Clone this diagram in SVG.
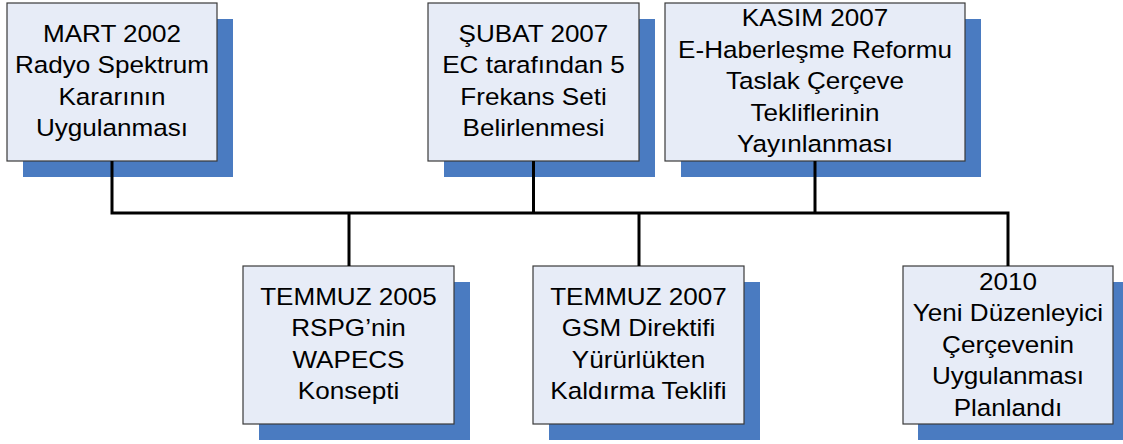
<svg xmlns="http://www.w3.org/2000/svg" width="1123" height="444" viewBox="0 0 1123 444">
<style>
.bg{fill:#ffffff}
.sh{fill:#4A7BC1}
.box{fill:#E7ECF7;stroke:#3a3a3a;stroke-width:1.2}
.t{font-family:"Liberation Sans",Arial,sans-serif;font-size:23.5px;text-anchor:middle;fill:#000}
.c{fill:none;stroke:#000;stroke-width:3;stroke-linejoin:miter;stroke-linecap:butt}
</style>
<rect class="bg" x="0" y="0" width="1123" height="444"/>
<g id="node-mart2002">
<rect class="sh" x="23" y="19" width="210" height="158"/>
<rect class="box" x="7" y="3" width="210" height="158"/>
<g transform="translate(112 0) scale(1.11 1)" class="t">
<text x="0" y="42">MART 2002</text>
<text x="0" y="73.5">Radyo Spektrum</text>
<text x="0" y="105">Kararının</text>
<text x="0" y="136.5">Uygulanması</text>
</g>
</g>
<g id="node-subat2007">
<rect class="sh" x="444" y="19" width="211" height="158"/>
<rect class="box" x="428" y="3" width="211" height="158"/>
<g transform="translate(533.5 0) scale(1.11 1)" class="t">
<text x="0" y="42">ŞUBAT 2007</text>
<text x="0" y="73.5">EC tarafından 5</text>
<text x="0" y="105">Frekans Seti</text>
<text x="0" y="136.5">Belirlenmesi</text>
</g>
</g>
<g id="node-kasim2007">
<rect class="sh" x="681" y="19" width="300" height="158"/>
<rect class="box" x="665" y="3" width="300" height="158"/>
<g transform="translate(815 0) scale(1.11 1)" class="t">
<text x="0" y="26.5">KASIM 2007</text>
<text x="0" y="58">E-Haberleşme Reformu</text>
<text x="0" y="89.3">Taslak Çerçeve</text>
<text x="0" y="120.6">Tekliflerinin</text>
<text x="0" y="152">Yayınlanması</text>
</g>
</g>
<g id="node-temmuz2005">
<rect class="sh" x="259" y="282" width="211" height="158"/>
<rect class="box" x="243" y="266" width="211" height="158"/>
<g transform="translate(348.5 0) scale(1.11 1)" class="t">
<text x="0" y="305">TEMMUZ 2005</text>
<text x="0" y="336.5">RSPG’nin</text>
<text x="0" y="368">WAPECS</text>
<text x="0" y="399.5">Konsepti</text>
</g>
</g>
<g id="node-temmuz2007">
<rect class="sh" x="549" y="282" width="211" height="158"/>
<rect class="box" x="533" y="266" width="211" height="158"/>
<g transform="translate(638.5 0) scale(1.11 1)" class="t">
<text x="0" y="305">TEMMUZ 2007</text>
<text x="0" y="336.5">GSM Direktifi</text>
<text x="0" y="368">Yürürlükten</text>
<text x="0" y="399.5">Kaldırma Teklifi</text>
</g>
</g>
<g id="node-2010">
<rect class="sh" x="918" y="282" width="210" height="158"/>
<rect class="box" x="903" y="266" width="210" height="158"/>
<g transform="translate(1008 0) scale(1.11 1)" class="t">
<text x="0" y="290">2010</text>
<text x="0" y="321.5">Yeni Düzenleyici</text>
<text x="0" y="353">Çerçevenin</text>
<text x="0" y="384.5">Uygulanması</text>
<text x="0" y="416">Planlandı</text>
</g>
</g>
<g id="connectors">
<path class="c" d="M112 161 V213 H1008 V266"/>
<path class="c" d="M533.5 161 V213"/>
<path class="c" d="M815 161 V213"/>
<path class="c" d="M349 213 V266"/>
<path class="c" d="M639 213 V266"/>
</g>
</svg>
